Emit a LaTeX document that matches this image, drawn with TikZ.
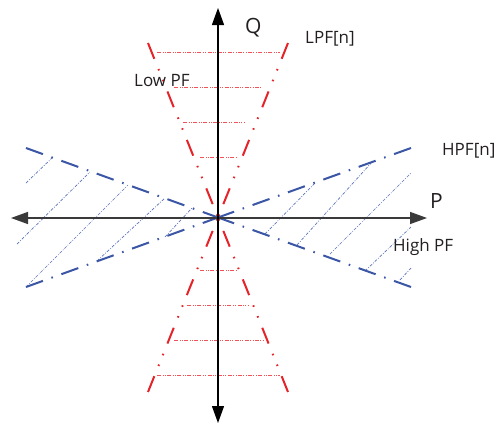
\documentclass[tikz,border=0pt]{standalone}
\usepackage{fontspec}
\setmainfont{Open Sans}
\usepackage{xcolor}
\definecolor{lpfred}{HTML}{E52329}
\definecolor{hpfblue}{HTML}{3A56A5}
\definecolor{hatchred}{HTML}{EF5357}
\definecolor{hatchblue}{HTML}{5A73BA}
\definecolor{axisgray}{HTML}{3A3A3A}
\definecolor{txt}{HTML}{231F20}
\usepackage{tikz}
\usetikzlibrary{arrows.meta}

\begin{document}
\begin{tikzpicture}[x=1pt, y=-1pt,
                   lpf/.style={draw=lpfred, line width=2pt,
                               dash pattern=on 17pt off 11pt on 1.6pt off 10pt on 1.6pt off 11pt},
                   hpf/.style={draw=hpfblue, line width=2pt,
                               dash pattern=on 18pt off 9pt on 1.6pt off 9pt},
                   lpfhatch/.style={draw=hatchred, line width=0.7pt,
                               dash pattern=on 4pt off 1.5pt on 0.8pt off 1.5pt on 0.8pt off 1.5pt},
                   hpfhatch/.style={draw=hatchblue, line width=0.7pt,
                               dash pattern=on 3pt off 1.5pt on 0.8pt off 1.5pt},
                   axis/.style={draw=axisgray, line width=1.4pt, {Triangle[length=17pt, width=12pt]}-{Triangle[length=17pt, width=12pt]}},
                   lbl/.style={anchor=base west, inner sep=0pt, text=txt, font=\fontsize{17}{20}\selectfont},
                   axlbl/.style={lbl, font=\fontsize{21}{24}\selectfont}]
    \useasboundingbox (0,0) rectangle (499,426);
    % corner points of the two cones
    \coordinate (O)     at (218,217.5);
    \coordinate (lpfTL) at (148,43);
    \coordinate (lpfTR) at (288,43);
    \coordinate (lpfBL) at (148,392);
    \coordinate (lpfBR) at (288,392);
    \coordinate (hpfTL) at (26,148);
    \coordinate (hpfBL) at (26,287);
    \coordinate (hpfTR) at (411,148);
    \coordinate (hpfBR) at (411,287);
    % hatching
    \foreach \y/\xa/\xb in {52/157/280, 87/174/262, 122/183/245, 157/200/237,
                            270/200/237, 305/187/248, 340/174/263, 375/157/280}
        \draw[lpfhatch] (\xa,\y) -- (\xb,\y);
    \foreach \xa/\ya/\xb/\yb in {26/183/53/157, 17/244/90/172, 26/287/128/185,
                                 97/261/165/198, 165/237/192/208,
                                 265/234/315/183, 297/245/373/161, 330/254/411/173,
                                 365/271/411/227, 400/280/411/268}
        \draw[hpfhatch] (\xa,\ya) -- (\xb,\yb);
    % cone boundaries
    \draw[lpf] (lpfTL) -- (O);
    \draw[lpf] (lpfTR) -- (O);
    \draw[lpf] (lpfBL) -- (O);
    \draw[lpf] (lpfBR) -- (O);
    \draw[hpf] (hpfTL) -- (O);
    \draw[hpf] (hpfBL) -- (O);
    \draw[hpf] (hpfTR) -- (O);
    \draw[hpf] (hpfBR) -- (O);
    % axes
    \coordinate (pneg) at (11,218);
    \coordinate (ppos) at (427,218);
    \coordinate (qpos) at (218,8);
    \coordinate (qneg) at (218,423);
    \draw[axis] (pneg) -- (ppos);
    \draw[axis, draw=black, line width=1.2pt] (qneg) -- (qpos);
    % labels
    \node[axlbl] (qlbl)   at (245,33)  {Q};
    \node[axlbl] (plbl)   at (430,208) {P};
    \node[lbl]   (lpfn)   at (305,43)  {LPF[n]};
    \node[lbl]   (hpfn)   at (442,155) {HPF[n]};
    \node[lbl]   (lowpf)  at (134,86)  {Low PF};
    \node[lbl]   (highpf) at (393,251) {High PF};
\end{tikzpicture}
\end{document}
